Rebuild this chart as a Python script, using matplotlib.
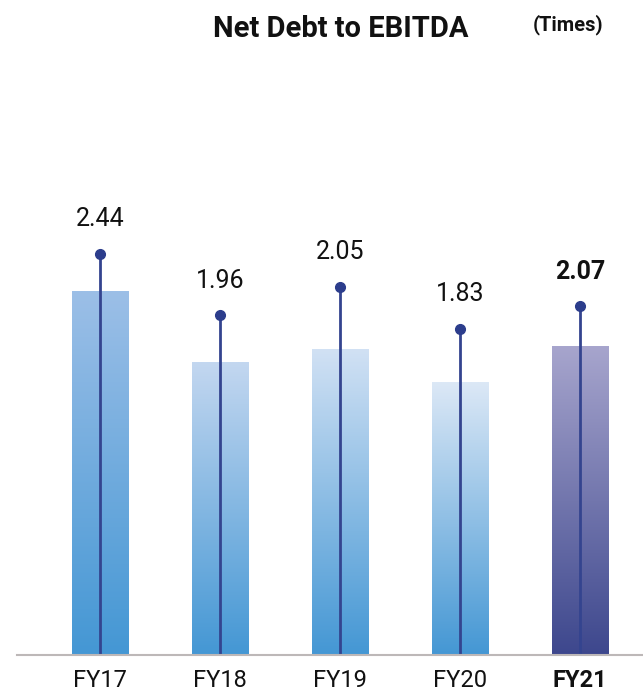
import matplotlib
matplotlib.use("Agg")
import matplotlib.pyplot as plt
import numpy as np
from matplotlib.colors import LinearSegmentedColormap

plt.rcParams['font.family'] = ['Roboto', 'DejaVu Sans']

years = ["FY17", "FY18", "FY19", "FY20", "FY21"]
ratio = [2.44, 1.96, 2.05, 1.83, 2.07]
# height of the lollipop dot above each bar
dot_level = [2.69, 2.28, 2.47, 2.19, 2.34]

top_colors = ["#9cbfe7", "#c3d7f0", "#d1e1f4", "#dce8f6", "#a7a5cd"]
bottom_colors = ["#4497d4", "#4497d4", "#4497d4", "#4497d4", "#3d478d"]

fig = plt.figure(figsize=(6.43, 6.95), dpi=100)
ax = fig.add_axes([17 / 643, 1 - 655 / 695, 1 - 17 / 643, 596 / 695])

x = np.arange(len(years))
bars = ax.bar(x, ratio, width=0.47, facecolor="none", edgecolor="none")

# gradient fill for each bar
grad = np.linspace(0, 1, 256).reshape(-1, 1)
for rect, c_top, c_bot in zip(bars, top_colors, bottom_colors):
    cmap = LinearSegmentedColormap.from_list("g", [c_bot, c_top])
    x0, w, h = rect.get_x(), rect.get_width(), rect.get_height()
    ax.imshow(grad, cmap=cmap, origin="lower", aspect="auto",
              extent=(x0, x0 + w, 0, h), zorder=1)

ax.vlines(x, 0, dot_level, color="#34448f", lw=2.0, zorder=2)
ax.plot(x, dot_level, "o", color="#2c3d8c", ms=7, zorder=3)

for i, (xi, v, d) in enumerate(zip(x, ratio, dot_level)):
    ax.annotate(f"{v:.2f}", (xi, d), xytext=(0, 25), textcoords="offset points",
                ha="center", va="center", fontsize=18, color="#111111",
                fontweight="bold" if i == len(years) - 1 else "normal")

ax.set_xlim(-83 / 120, 543 / 120)
ax.set_ylim(0, 4)

for s in ["top", "left", "right"]:
    ax.spines[s].set_visible(False)
ax.spines["bottom"].set_color("#bdb8b8")
ax.spines["bottom"].set_linewidth(1.5)
ax.set_yticks([])
ax.set_xticks(x)
ax.set_xticklabels(years, fontsize=17, color="#111111")
ax.tick_params(axis="x", length=0, pad=10)
ax.get_xticklabels()[-1].set_fontweight("bold")

fig.text(341 / 643, 1 - 29 / 695, "Net Debt to EBITDA", ha="center", va="center",
         fontsize=21, fontweight="bold", color="#111111")
fig.text(568 / 643, 1 - 25 / 695, "(Times)", ha="center", va="center",
         fontsize=14.5, fontweight="bold", color="#111111")

fig.savefig("out.png", dpi=100)
